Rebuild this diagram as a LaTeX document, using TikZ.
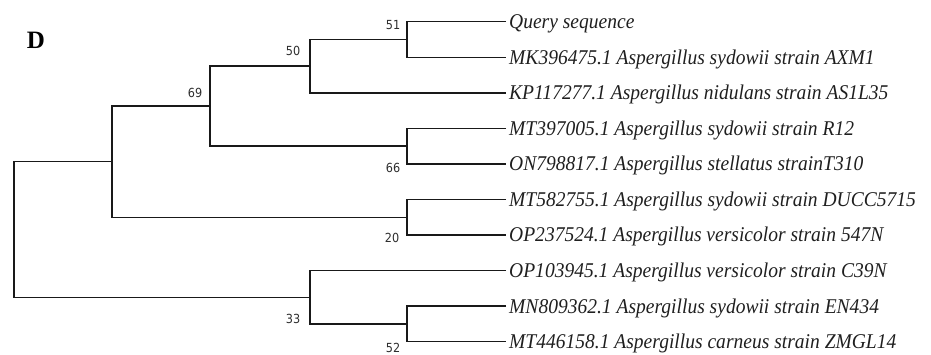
\documentclass[tikz,border=0pt]{standalone}
\usepackage{fontspec}
\setmainfont{Liberation Serif}
\newfontfamily\leaffont[FakeStretch=0.93]{Liberation Serif}
\newfontfamily\bsfont[FakeStretch=0.9]{DejaVu Sans}
\begin{document}
\begin{tikzpicture}[x=1pt,y=-1pt,
  branch/.style={line width=1.5pt, draw=black!90},
  leaf/.style={anchor=base west, inner sep=0pt, font=\leaffont\itshape\fontsize{21}{21}\selectfont, text=black!88},
  boot/.style={inner sep=0pt, font=\bsfont\fontsize{12.5}{12.5}\selectfont, text=black!82},
  panel/.style={inner sep=0pt, font=\bfseries\fontsize{25}{25}\selectfont}]
\useasboundingbox (0,0) rectangle (931,355);
% leaf tips
\coordinate (l0) at (506,21.7);
\coordinate (l1) at (506,57.3);
\coordinate (l2) at (506,92.8);
\coordinate (l3) at (506,128.4);
\coordinate (l4) at (506,164.0);
\coordinate (l5) at (506,199.5);
\coordinate (l6) at (506,235.0);
\coordinate (l7) at (506,270.6);
\coordinate (l8) at (506,306.2);
\coordinate (l9) at (506,341.7);
% internal nodes
\coordinate (A) at (407,39.5);
\coordinate (B) at (310,66.1);
\coordinate (C) at (407,146.2);
\coordinate (E) at (210,106.2);
\coordinate (F) at (407,217.3);
\coordinate (G) at (112,161.7);
\coordinate (H) at (407,324.0);
\coordinate (I) at (310,297.3);
\coordinate (R) at (14,229.5);
% branches
\draw[branch] (l0) -| (A) |- (l1);
\draw[branch] (A) -| (B) |- (l2);
\draw[branch] (l3) -| (C) |- (l4);
\draw[branch] (B) -| (E) |- (C);
\draw[branch] (l5) -| (F) |- (l6);
\draw[branch] (E) -| (G) |- (F);
\draw[branch] (l8) -| (H) |- (l9);
\draw[branch] (l7) -| (I) |- (H);
\draw[branch] (G) -| (R) |- (I);
% leaf labels
\node[leaf] (t0) at ([shift={(3,7)}]l0) {Query sequence};
\node[leaf] (t1) at ([shift={(3,7)}]l1) {MK396475.1 Aspergillus sydowii strain AXM1};
\node[leaf] (t2) at ([shift={(3,7)}]l2) {KP117277.1 Aspergillus nidulans strain AS1L35};
\node[leaf] (t3) at ([shift={(3,7)}]l3) {MT397005.1 Aspergillus sydowii strain R12};
\node[leaf] (t4) at ([shift={(3,7)}]l4) {ON798817.1 Aspergillus stellatus strainT310};
\node[leaf] (t5) at ([shift={(3,7)}]l5) {MT582755.1 Aspergillus sydowii strain DUCC5715};
\node[leaf] (t6) at ([shift={(3,7)}]l6) {OP237524.1 Aspergillus versicolor strain 547N};
\node[leaf] (t7) at ([shift={(3,7)}]l7) {OP103945.1 Aspergillus versicolor strain C39N};
\node[leaf] (t8) at ([shift={(3,7)}]l8) {MN809362.1 Aspergillus sydowii strain EN434};
\node[leaf] (t9) at ([shift={(3,7)}]l9) {MT446158.1 Aspergillus carneus strain ZMGL14};
% bootstrap values
\node[boot] (b51) at (393,25.5) {51};
\node[boot] (b50) at (293,51) {50};
\node[boot] (b69) at (195,92.5) {69};
\node[boot] (b66) at (393,167.5) {66};
\node[boot] (b20) at (392,237.5) {20};
\node[boot] (b33) at (293,319) {33};
\node[boot] (b52) at (393,347.5) {52};
% panel letter
\node[panel] (D) at (36,40) {D};
\end{tikzpicture}
\end{document}
